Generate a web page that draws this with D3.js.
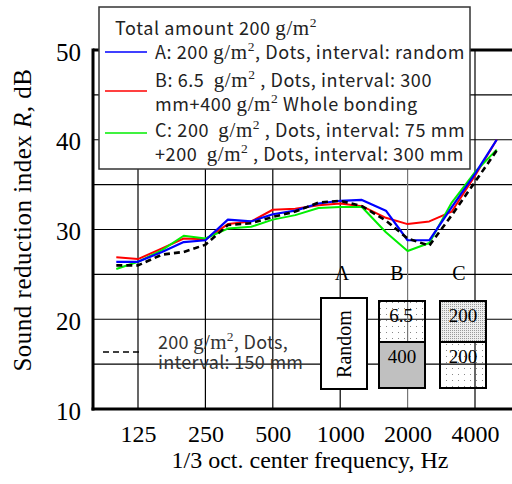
<!DOCTYPE html>
<html>
<head>
<meta charset="utf-8">
<script src="https://cdn.jsdelivr.net/npm/d3@7"></script>
<style>
  body { margin: 0; background: #fff; }
  svg { display: block; }
</style>
</head>
<body>
<div id="chart"></div>
<script>
// 1/3 octave band centre frequencies, Hz
var freqs = [100, 125, 160, 200, 250, 315, 400, 500, 630, 800, 1000, 1250, 1600, 2000, 2500, 3150, 4000, 5000]
var xTicks = [125, 250, 500, 1000, 2000, 4000]
var yTicks = [10, 20, 30, 40, 50]
var yGrid = [15, 20, 25, 30, 35, 40, 45]

// sound reduction index R, dB
var seriesA = [26.4, 26.4, 27.5, 28.6, 28.8, 31.1, 30.9, 31.7, 32.1, 32.9, 33.2, 33.3, 32.1, 28.8, 28.8, 32.5, 36.2, 40.0]
var seriesB = [26.9, 26.7, 27.9, 29.0, 28.9, 30.6, 30.9, 32.2, 32.3, 32.7, 32.9, 32.6, 31.3, 30.6, 30.9, 32.0, 36.0, 40.0]
var seriesC = [25.6, 26.4, 27.7, 29.3, 29.0, 30.1, 30.3, 31.1, 31.6, 32.4, 32.5, 32.5, 29.7, 27.6, 28.5, 33.0, 36.4, 38.9]
var seriesRef = [26.0, 26.0, 27.2, 27.5, 28.3, 30.5, 30.7, 31.4, 32.0, 33.0, 33.2, 32.6, 31.0, 29.0, 28.2, 31.6, 35.3, 38.8]

var width = 512, height = 484
var mLeft = 93, mBottom = 409, mTop = 50, mRight = 512

var svg = d3.select("#chart").append("svg")
    .attr("width", width)
    .attr("height", height)

var x = d3.scaleLog().domain([125, 4000]).range([138, 475])
var y = d3.scaleLinear().domain([10, 50]).range([mBottom, mTop])

var serif = "'Liberation Serif', 'Times New Roman', serif"
var sans = "'Noto Sans CJK JP', 'DejaVu Sans', sans-serif"

// patterns for the little inset drawings
var defs = svg.append("defs")
defs.append("pattern").attr("id", "sparse").attr("patternUnits", "userSpaceOnUse")
    .attr("width", 6).attr("height", 6)
  .append("rect").attr("x", 2).attr("y", 2).attr("width", 1).attr("height", 1).attr("fill", "#888")
var dense = defs.append("pattern").attr("id", "dense").attr("patternUnits", "userSpaceOnUse")
    .attr("width", 2).attr("height", 2)
dense.append("rect").attr("width", 2).attr("height", 2).attr("fill", "#eee")
dense.append("rect").attr("width", 1).attr("height", 1).attr("fill", "#999")

// grid
svg.append("g").selectAll("line").data(yGrid).enter().append("line")
    .attr("x1", mLeft).attr("x2", mRight)
    .attr("y1", function(d) { return y(d) }).attr("y2", function(d) { return y(d) })
    .attr("stroke", "#000").attr("stroke-width", 1.2)

svg.append("g").selectAll("line").data(xTicks).enter().append("line")
    .attr("x1", function(d) { return x(d) }).attr("x2", function(d) { return x(d) })
    .attr("y1", mBottom).attr("y2", mTop)
    .attr("stroke", function(d) { return d == 2000 ? "#777" : "#000" })
    .attr("stroke-width", 1.2)

// frame
svg.append("line").attr("x1", mLeft).attr("x2", mRight).attr("y1", mTop).attr("y2", mTop)
    .attr("stroke", "#000").attr("stroke-width", 3)

// axes
var xAxis = svg.append("g")
    .attr("transform", "translate(0," + mBottom + ")")
    .call(d3.axisBottom(x).tickValues(xTicks).tickSize(0).tickPadding(16).tickFormat(d3.format("d")))
xAxis.select(".domain").remove()
xAxis.append("line").attr("x1", mLeft - 1.5).attr("x2", mRight).attr("stroke", "#000").attr("stroke-width", 3)
xAxis.selectAll("text").attr("font-family", serif).attr("font-size", 24).attr("fill", "#000")

var yAxis = svg.append("g")
    .attr("transform", "translate(" + mLeft + ",0)")
    .call(d3.axisLeft(y).tickValues(yTicks).tickSize(0).tickPadding(12))
yAxis.select(".domain").remove()
yAxis.append("line").attr("y1", mTop - 1.5).attr("y2", mBottom + 1.5).attr("stroke", "#000").attr("stroke-width", 3)
yAxis.selectAll("text").attr("font-family", serif).attr("font-size", 25).attr("fill", "#000")
    .attr("dy", "0.4em")

svg.append("text")
    .attr("x", 310).attr("y", 468)
    .attr("text-anchor", "middle")
    .attr("font-family", serif).attr("font-size", 24)
    .text("1/3 oct. center frequency, Hz")

var yt = svg.append("text")
    .attr("transform", "rotate(-90)")
    .attr("x", -220).attr("y", 31)
    .attr("text-anchor", "middle")
    .attr("font-family", serif).attr("font-size", 25)
    .attr("letter-spacing", 0.5)
yt.append("tspan").text("Sound reduction index ")
yt.append("tspan").attr("font-style", "italic").text("R")
yt.append("tspan").text(", dB")

// inset drawings
var ins = svg.append("g")
ins.selectAll("text.lab").data(["A", "B", "C"]).enter().append("text")
    .attr("x", function(d, i) { return [342, 397, 459][i] })
    .attr("y", 280)
    .attr("text-anchor", "middle")
    .attr("font-family", serif).attr("font-size", 20)
    .text(function(d) { return d })

ins.append("rect").attr("x", 321).attr("y", 298).attr("width", 46).attr("height", 91)
    .attr("fill", "#fff").attr("stroke", "#000").attr("stroke-width", 2)
ins.append("text").attr("transform", "translate(351,344) rotate(-90)")
    .attr("text-anchor", "middle")
    .attr("font-family", serif).attr("font-size", 20)
    .text("Random")

ins.append("rect").attr("x", 379).attr("y", 301).attr("width", 46).attr("height", 41)
    .attr("fill", "url(#sparse)").attr("stroke", "#000").attr("stroke-width", 2)
ins.append("rect").attr("x", 379).attr("y", 342).attr("width", 46).attr("height", 46)
    .attr("fill", "#c0c0c0").attr("stroke", "#000").attr("stroke-width", 2)
ins.append("rect").attr("x", 440).attr("y", 301).attr("width", 46).attr("height", 41)
    .attr("fill", "url(#dense)").attr("stroke", "#000").attr("stroke-width", 2)
ins.append("rect").attr("x", 440).attr("y", 342).attr("width", 46).attr("height", 46)
    .attr("fill", "url(#sparse)").attr("stroke", "#000").attr("stroke-width", 2)

var boxText = [["6.5", 401, 322], ["400", 402, 363], ["200", 463, 322], ["200", 463, 363]]
ins.selectAll("text.num").data(boxText).enter().append("text")
    .attr("x", function(d) { return d[1] }).attr("y", function(d) { return d[2] })
    .attr("text-anchor", "middle")
    .attr("font-family", serif).attr("font-size", 19)
    .text(function(d) { return d[0] })

// series lines
var line = d3.line()
    .x(function(d, i) { return x(freqs[i]) })
    .y(function(d) { return y(d) })

var series = [
  {values: seriesB, color: "#ff0000", dash: null, w: 2},
  {values: seriesC, color: "#00ee00", dash: null, w: 2},
  {values: seriesA, color: "#0000ff", dash: null, w: 2.2},
  {values: seriesRef, color: "#000", dash: "6,4", w: 2.6}
]
svg.append("g").selectAll("path").data(series).enter().append("path")
    .attr("d", function(d) { return line(d.values) })
    .attr("fill", "none")
    .attr("stroke", function(d) { return d.color })
    .attr("stroke-width", function(d) { return d.w })
    .attr("stroke-dasharray", function(d) { return d.dash })
    .attr("stroke-linejoin", "round")

// rich text helper: parts are [text, kind] with kind "s" sans, "r" serif, "u" superscript, "d" back to baseline
function rich(g, xPos, yPos, parts, size, color, spacing) {
  var t = g.append("text").attr("x", xPos).attr("y", yPos)
      .attr("font-family", sans).attr("font-size", size).attr("fill", color)
      .attr("letter-spacing", spacing)
      .attr("xml:space", "preserve")
  parts.forEach(function(p) {
    var s = t.append("tspan").text(p[0])
    if (p[1] == "r") s.attr("font-family", serif).attr("font-size", size + 3)
    if (p[1] == "u") s.attr("font-family", serif).attr("font-size", size * 0.75).attr("dy", -size * 0.45)
    if (p[1] == "d") s.attr("dy", size * 0.45)
  })
  return t
}

// legend
var lg = svg.append("g")
lg.append("rect").attr("x", 99).attr("y", 7).attr("width", 371).attr("height", 162)
    .attr("fill", "#fff").attr("stroke", "#333").attr("stroke-width", 1.5)

var fs = 18, ls = 0.6
rich(lg, 115, 35, [["Total amount 200 ", "s"], ["g/m", "r"], ["2", "u"]], fs, "#222", ls)
rich(lg, 155, 59, [["A: 200 ", "s"], ["g/m", "r"], ["2", "u"], [", Dots, interval: random", "d"]], fs, "#222", ls)
rich(lg, 155, 87, [["B: 6.5  ", "s"], ["g/m", "r"], ["2", "u"], [" , Dots, interval: 300", "d"]], fs, "#222", ls)
rich(lg, 155, 111, [["mm+400 ", "s"], ["g/m", "r"], ["2", "u"], [" Whole bonding", "d"]], fs, "#222", ls)
rich(lg, 155, 137, [["C: 200  ", "s"], ["g/m", "r"], ["2", "u"], [" , Dots, interval: 75 mm", "d"]], fs, "#222", ls)
rich(lg, 155, 161, [["+200  ", "s"], ["g/m", "r"], ["2", "u"], [" , Dots, interval: 300 mm", "d"]], fs, "#222", ls)

var swatches = [["#0000ff", 52], ["#ff0000", 91], ["#00ee00", 133]]
lg.selectAll("line.sw").data(swatches).enter().append("line")
    .attr("x1", 105).attr("x2", 147)
    .attr("y1", function(d) { return d[1] }).attr("y2", function(d) { return d[1] })
    .attr("stroke", function(d) { return d[0] }).attr("stroke-width", 1.6)

// reference curve label
svg.append("line").attr("x1", 103).attr("x2", 143).attr("y1", 352).attr("y2", 352)
    .attr("stroke", "#000").attr("stroke-width", 1.6).attr("stroke-dasharray", "6,4")
rich(svg, 158, 349, [["200 ", "s"], ["g/m", "r"], ["2", "u"], [", Dots,", "d"]], fs, "#333", 0.3)
rich(svg, 158, 369, [["interval: 150 mm", "s"]], fs, "#333", 0.3)
</script>
</body>
</html>
